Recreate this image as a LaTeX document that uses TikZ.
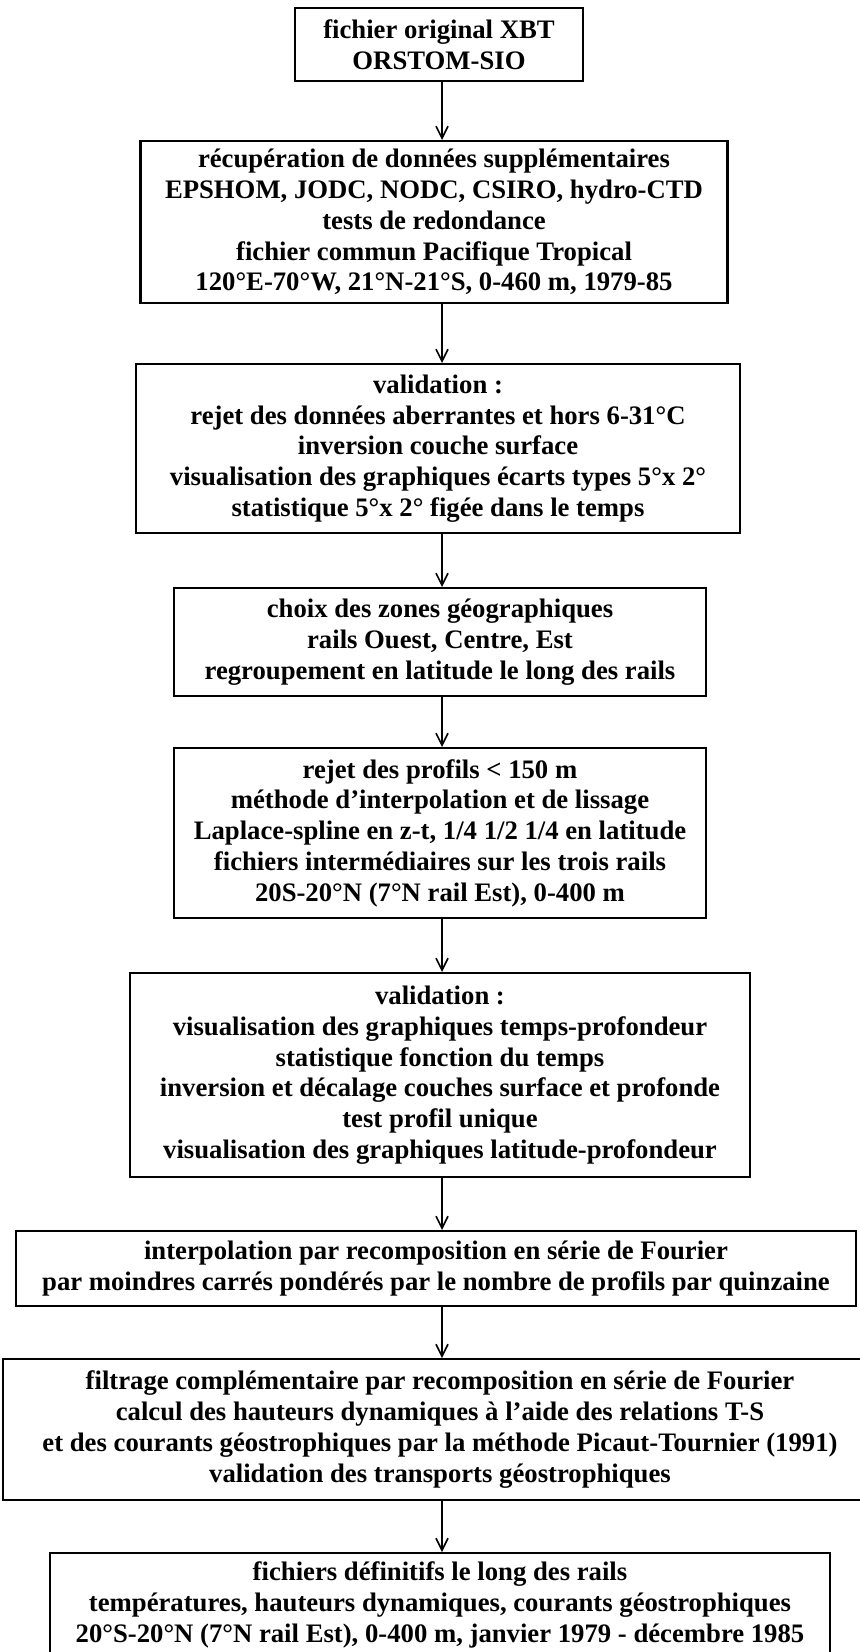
\documentclass[tikz,border=0pt]{standalone}
\usepackage{fontspec}
\setmainfont{Liberation Serif}
\usetikzlibrary{arrows.meta}
\tikzset{
  stepbox/.style={draw,line width=1.1pt,rectangle,inner sep=0pt,align=center,
    anchor=north,font=\bfseries\fontsize{13.35}{15.4}\selectfont},
  flowarr/.style={-{Straight Barb[length=6pt,width=6pt]},line width=0.8pt},
}
\begin{document}
\begin{tikzpicture}[x=0.5pt,y=-0.5pt]
  \useasboundingbox (0,0) rectangle (860,1652);
  % boites de la chaine de traitement
  \node[stepbox,minimum width=144pt,minimum height=36.5pt] (orig) at (439,7)
    {fichier original XBT\\ORSTOM-SIO};
  \node[stepbox,minimum width=293.5pt,minimum height=81pt] (recup) at (434,140)
    {récupération de données supplémentaires\\
     EPSHOM, JODC, NODC, CSIRO, hydro-CTD\\
     tests de redondance\\
     fichier commun Pacifique Tropical\\
     120°E-70°W, 21°N-21°S, 0-460 m, 1979-85};
  \node[stepbox,minimum width=302pt,minimum height=84.5pt] (valida) at (438,363)
    {validation :\\
     rejet des données aberrantes et hors 6-31°C\\
     inversion couche surface\\
     visualisation des graphiques écarts types 5°x 2°\\
     statistique 5°x 2° figée dans le temps};
  \node[stepbox,minimum width=266pt,minimum height=54pt] (zones) at (440,587)
    {choix des zones géographiques\\
     rails Ouest, Centre, Est\\
     regroupement en latitude le long des rails};
  \node[stepbox,minimum width=266pt,minimum height=85pt] (lissage) at (440,747)
    {rejet des profils < 150 m\\
     méthode d’interpolation et de lissage\\
     Laplace-spline en z-t, 1/4 1/2 1/4 en latitude\\
     fichiers intermédiaires sur les trois rails\\
     20S-20°N (7°N rail Est), 0-400 m};
  \node[stepbox,minimum width=310pt,minimum height=102pt] (validb) at (440,972)
    {validation :\\
     visualisation des graphiques temps-profondeur\\
     statistique fonction du temps\\
     inversion et décalage couches surface et profonde\\
     test profil unique\\
     visualisation des graphiques latitude-profondeur};
  \node[stepbox,minimum width=420pt,minimum height=37.5pt] (fourier) at (436,1230)
    {interpolation par recomposition en série de Fourier\\
     par moindres carrés pondérés par le nombre de profils par quinzaine};
  \node[stepbox,minimum width=437pt,minimum height=70.5pt] (filtre) at (440,1358)
    {filtrage complémentaire par recomposition en série de Fourier\\
     calcul des hauteurs dynamiques à l’aide des relations T-S\\
     et des courants géostrophiques par la méthode Picaut-Tournier (1991)\\
     validation des transports géostrophiques};
  \node[stepbox,minimum width=390pt,minimum height=52pt] (final) at (440,1552)
    {fichiers définitifs le long des rails\\
     températures, hauteurs dynamiques, courants géostrophiques\\
     20°S-20°N (7°N rail Est), 0-400 m, janvier 1979 - décembre 1985};
  % fleches verticales
  \coordinate (spine) at (442,0);
  \draw[flowarr] (spine |- orig.south) -- (spine |- recup.north);
  \draw[flowarr] (spine |- recup.south) -- (spine |- valida.north);
  \draw[flowarr] (spine |- valida.south) -- (spine |- zones.north);
  \draw[flowarr] (spine |- zones.south) -- (spine |- lissage.north);
  \draw[flowarr] (spine |- lissage.south) -- (spine |- validb.north);
  \draw[flowarr] (spine |- validb.south) -- (spine |- fourier.north);
  \draw[flowarr] (spine |- fourier.south) -- (spine |- filtre.north);
  \draw[flowarr] (spine |- filtre.south) -- (spine |- final.north);
\end{tikzpicture}
\end{document}
